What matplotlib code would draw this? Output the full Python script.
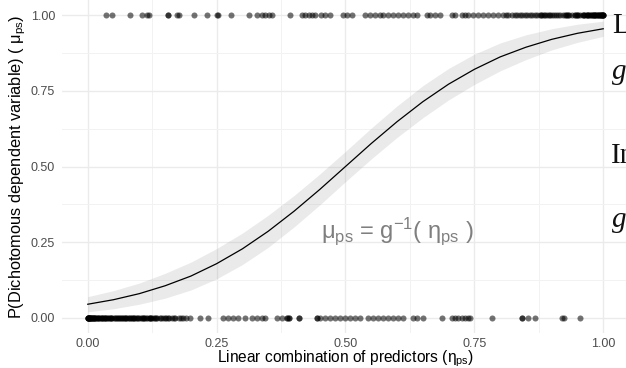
import numpy as np
import matplotlib
matplotlib.use('Agg')
import matplotlib.pyplot as plt

plt.rcParams['font.family'] = ['Liberation Sans', 'DejaVu Sans']
plt.rcParams['mathtext.fontset'] = 'custom'
plt.rcParams['mathtext.rm'] = 'Liberation Sans'
plt.rcParams['mathtext.it'] = 'Liberation Sans:italic'

# fitted curve
eta_grid = [0.00, 0.05, 0.10, 0.15, 0.20, 0.25, 0.30, 0.35, 0.40, 0.45, 0.50,
            0.55, 0.60, 0.65, 0.70, 0.75, 0.80, 0.85, 0.90, 0.95, 1.00]
mu_fit = [0.045, 0.060, 0.080, 0.106, 0.138, 0.179, 0.228, 0.286, 0.352, 0.424, 0.500,
          0.576, 0.648, 0.714, 0.772, 0.821, 0.862, 0.894, 0.920, 0.940, 0.955]
mu_lo = [0.020, 0.030, 0.045, 0.065, 0.092, 0.129, 0.176, 0.233, 0.300, 0.373, 0.450,
         0.525, 0.596, 0.661, 0.720, 0.771, 0.816, 0.853, 0.885, 0.910, 0.930]
mu_hi = [0.070, 0.090, 0.115, 0.147, 0.184, 0.229, 0.280, 0.339, 0.404, 0.475, 0.550,
         0.627, 0.700, 0.767, 0.824, 0.871, 0.908, 0.935, 0.955, 0.970, 0.980]

# observations with outcome 0
eta_zero = [0.000, 0.000, 0.000, 0.000, 0.001, 0.002, 0.002, 0.003, 0.004, 0.005, 0.005,
            0.006, 0.007, 0.008, 0.009, 0.010, 0.010, 0.012, 0.013, 0.014, 0.015, 0.016,
            0.018, 0.019, 0.020, 0.022, 0.024, 0.025, 0.027, 0.028, 0.030, 0.031, 0.033,
            0.034, 0.036, 0.037, 0.040, 0.041, 0.043, 0.045, 0.046, 0.048, 0.050, 0.052,
            0.054, 0.056, 0.058, 0.060, 0.062, 0.064, 0.066, 0.068, 0.070, 0.072, 0.074,
            0.075, 0.078, 0.080, 0.082, 0.084, 0.086, 0.088, 0.090, 0.090, 0.093, 0.095,
            0.098, 0.100, 0.103, 0.105, 0.108, 0.110, 0.110, 0.113, 0.115, 0.118, 0.120,
            0.120, 0.123, 0.125, 0.128, 0.130, 0.133, 0.135, 0.140, 0.143, 0.146, 0.150,
            0.152, 0.156, 0.158, 0.164, 0.167, 0.170, 0.177, 0.180, 0.184, 0.191, 0.198,
            0.217, 0.233, 0.262, 0.272, 0.282, 0.291, 0.305, 0.318, 0.328, 0.338,
            0.344, 0.367, 0.377, 0.386, 0.386, 0.390, 0.390, 0.410, 0.410, 0.445, 0.445,
            0.450, 0.460, 0.470, 0.480, 0.489, 0.499, 0.509, 0.518, 0.528, 0.544, 0.553,
            0.563, 0.573, 0.583, 0.592, 0.602, 0.612, 0.631, 0.639, 0.650, 0.687, 0.707,
            0.713, 0.718, 0.726, 0.732, 0.738, 0.742, 0.784, 0.843, 0.843, 0.854, 0.868,
            0.920, 0.924, 0.955]

# observations with outcome 1
eta_one = [0.035, 0.047, 0.082, 0.105, 0.115, 0.118, 0.155, 0.155, 0.173, 0.177, 0.207,
           0.231, 0.250, 0.252, 0.278, 0.313, 0.328, 0.338, 0.344, 0.351, 0.357, 0.392,
           0.416, 0.421, 0.429, 0.435, 0.441, 0.452, 0.460, 0.470, 0.495, 0.503, 0.513,
           0.538, 0.548, 0.557, 0.567, 0.573, 0.583, 0.592, 0.602, 0.612, 0.621, 0.631,
           0.639, 0.658, 0.664, 0.674, 0.683, 0.707, 0.713, 0.726, 0.732, 0.738, 0.748,
           0.757, 0.767, 0.777, 0.786, 0.796, 0.806, 0.816, 0.823, 0.833, 0.843, 0.852,
           0.862, 0.872, 0.882, 0.891, 0.901, 0.909, 0.917, 0.922, 0.928, 0.934, 0.940,
           0.946, 0.951, 0.955, 0.961, 0.965, 0.971, 0.975, 0.979, 0.983, 0.986, 0.990,
           0.994, 0.996, 0.998, 1.000, 0.880, 0.885, 0.895, 0.905, 0.912, 0.925, 0.932,
           0.945, 0.950, 0.960, 0.963, 0.968, 0.970, 0.974, 0.978, 0.980, 0.982, 0.985,
           0.988, 0.990, 0.992, 0.993, 0.995, 0.997, 0.999, 1.000, 1.000, 0.930, 0.950,
           0.968, 0.985, 0.812, 0.828, 0.838, 0.848, 0.857, 0.867, 0.877, 0.887, 0.896]

ticks = [0.00, 0.25, 0.50, 0.75, 1.00]
tick_labels = ['0.00', '0.25', '0.50', '0.75', '1.00']

fig = plt.figure(figsize=(6.26, 3.68), dpi=100)
ax = fig.add_axes([0.099, 0.0951, 0.9058, 0.9049])
ax.set_xlim(-0.05, 1.05)
ax.set_ylim(-0.05, 1.05)

for s in ax.spines.values():
    s.set_visible(False)
ax.set_xticks(ticks)
ax.set_yticks(ticks)
ax.set_xticklabels(tick_labels)
ax.set_yticklabels(tick_labels)
ax.set_xticks([0.125, 0.375, 0.625, 0.875], minor=True)
ax.set_yticks([0.125, 0.375, 0.625, 0.875], minor=True)
ax.tick_params(which='both', length=0, labelsize=9, labelcolor='#4D4D4D', pad=5)
ax.tick_params(axis='x', pad=3.5)
ax.grid(which='major', color='#EBEBEB', linewidth=1.0)
ax.grid(which='minor', color='#F2F2F2', linewidth=0.7)
ax.set_axisbelow(True)

ax.fill_between(eta_grid, mu_lo, mu_hi, color='#999999', alpha=0.2, linewidth=0, zorder=2)
ax.plot(eta_grid, mu_fit, color='black', linewidth=0.9, zorder=3)

ax.scatter(eta_zero, np.zeros(len(eta_zero)), s=19, color='black', alpha=0.55,
           linewidths=0, zorder=4)
ax.scatter(eta_one, np.ones(len(eta_one)), s=19, color='black', alpha=0.55,
           linewidths=0, zorder=4)

ax.text(0.60, 0.285, r'μ$_{\mathrm{ps}}$ = g$^{\mathrm{-1}}$( η$_{\mathrm{ps}}$ )',
        color='#7F7F7F', fontsize=17, ha='center', va='center', zorder=5)

ax.set_xlabel(r'Linear combination of predictors (η$_{\mathrm{ps}}$)', fontsize=11.2,
              labelpad=-1)
ax.set_ylabel(r'P(Dichotomous dependent variable) ( μ$_{\mathrm{ps}}$)', fontsize=11.8,
              labelpad=2)

# annotations on the right, cut by the figure edge
serif = dict(family='Liberation Serif', fontsize=21, color='#111111', va='baseline')
fig.text(612 / 626, 1 - 33 / 368, 'L', **serif)
fig.text(612 / 626, 1 - 79 / 368, 'g', style='italic', **serif)
fig.text(611 / 626, 1 - 163 / 368, 'In', **serif)
fig.text(612 / 626, 1 - 227 / 368, 'g', style='italic', **serif)

fig.savefig('out.png', dpi=100)
